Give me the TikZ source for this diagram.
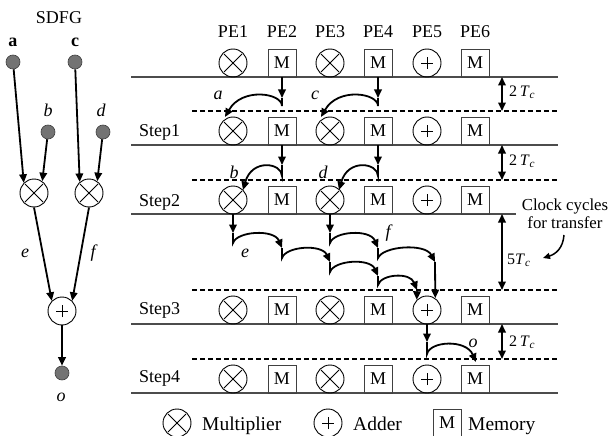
\documentclass[tikz,border=0pt]{standalone}
\usepackage{fontspec}
\setmainfont{Liberation Serif}
\usetikzlibrary{arrows.meta}
\begin{document}
\begin{tikzpicture}[x=1pt,y=-1pt,
  every node/.style={font=\fontsize{18}{21}\selectfont, inner sep=0pt},
  pe/.style={draw=black, line width=0.9pt, minimum size=28pt, inner sep=0pt},
  mult/.style={pe, circle, path picture={\draw[line width=0.9pt]
     ([xshift=-9pt,yshift=-9pt]path picture bounding box.center) -- ([xshift=9pt,yshift=9pt]path picture bounding box.center)
     ([xshift=-9pt,yshift=9pt]path picture bounding box.center) -- ([xshift=9pt,yshift=-9pt]path picture bounding box.center);}},
  adder/.style={pe, circle, path picture={\draw[line width=0.8pt]
     ([xshift=-6pt]path picture bounding box.center) -- ([xshift=6pt]path picture bounding box.center)
     ([yshift=-6pt]path picture bounding box.center) -- ([yshift=6pt]path picture bounding box.center);}},
  mem/.style={pe, rectangle, draw=black!75},
  gnode/.style={circle, fill=black!55, draw=black!75, line width=0.6pt, minimum size=14pt, inner sep=0pt},
  hline/.style={draw=black!70, line width=1.2pt},
  dline/.style={draw=black, line width=1.5pt, dash pattern=on 5pt off 3pt},
  arr/.style={line width=1.8pt, -{Triangle[length=8.5pt,width=7.5pt]}},
  darr/.style={line width=1.8pt, {Triangle[length=8.5pt,width=7.5pt]}-{Triangle[length=8.5pt,width=7.5pt]}},
  lbl/.style={font=\fontsize{18}{21}\selectfont\itshape},
  tc/.style={font=\fontsize{16}{19}\selectfont, anchor=base west},
  lgt/.style={font=\fontsize{19.5}{22}\selectfont, anchor=base west}
]
\useasboundingbox (0,0) rectangle (608,436);

% ---------- horizontal step lines ----------
\draw[hline] (131,77) -- (558,77);
\draw[hline] (131,145) -- (558,145);
\draw[hline] (131,214) -- (516,214);
\draw[hline] (131,324) -- (558,324);
\draw[hline] (131,393) -- (558,393);
\draw[dline] (192,111) -- (558,111);
\draw[dline] (192,180) -- (558,180);
\draw[dline] (192,290) -- (558,290);
\draw[dline] (192,359) -- (558,359);

% ---------- PE labels ----------
\node[anchor=base] (pe1) at (233,38) {PE1};
\node[anchor=base] (pe2) at (282,38) {PE2};
\node[anchor=base] (pe3) at (330,38) {PE3};
\node[anchor=base] (pe4) at (378,38) {PE4};
\node[anchor=base] (pe5) at (427,38) {PE5};
\node[anchor=base] (pe6) at (475,38) {PE6};

% ---------- PE cells ----------
\foreach \r/\y in {0/63,1/131,2/200,3/310,4/379} {
  \node[mult]  (r\r-c1) at (233,\y) {};
  \node[mem]   (r\r-c2) at (282,\y) {M};
  \node[mult]  (r\r-c3) at (330,\y) {};
  \node[mem]   (r\r-c4) at (378,\y) {M};
  \node[adder] (r\r-c5) at (427,\y) {};
  \node[mem]   (r\r-c6) at (475,\y) {M};
}

% ---------- step labels ----------
\node[anchor=base west] (st1) at (139,136) {Step1};
\node[anchor=base west] (st2) at (139,206) {Step2};
\node[anchor=base west] (st3) at (139,314) {Step3};
\node[anchor=base west] (st4) at (139,382) {Step4};

% ---------- step 1 transfers ----------
\coordinate (v1a) at (282,98);  \coordinate (a1s) at (282,106); \coordinate (a1e) at (225,117);
\draw[arr] (r0-c2.south) -- (v1a);
\draw[arr] (v1a) -- (a1s) .. controls (282,93) and (242,87) .. (a1e);
\node[lbl] (la) at (218,95) {a};
\coordinate (v1c) at (378,98);  \coordinate (c1s) at (378,106); \coordinate (c1e) at (321,117);
\draw[arr] (r0-c4.south) -- (v1c);
\draw[arr] (v1c) -- (c1s) .. controls (378,93) and (338,87) .. (c1e);
\node[lbl] (lc) at (315,95) {c};

% ---------- step 2 transfers ----------
\coordinate (v2b) at (282,165); \coordinate (b2s) at (282,176); \coordinate (b2e) at (243,190);
\draw[arr] (r1-c2.south) -- (v2b);
\draw[arr] (v2b) -- (b2s) .. controls (282,163) and (252,158) .. (b2e);
\node[lbl] (lb) at (234,172) {b};
\coordinate (v2d) at (378,165); \coordinate (d2s) at (378,176); \coordinate (d2e) at (339,190);
\draw[arr] (r1-c4.south) -- (v2d);
\draw[arr] (v2d) -- (d2s) .. controls (378,163) and (348,158) .. (d2e);
\node[lbl] (ld) at (323,172) {d};

% ---------- step 3 transfers (e and f) ----------
\coordinate (ve) at (233,233);
\coordinate (e1s) at (233,243); \coordinate (e1e) at (282,248);
\coordinate (e2s) at (282,258); \coordinate (e2e) at (330,262);
\coordinate (e3s) at (330,272); \coordinate (e3e) at (378,276);
\coordinate (e4s) at (378,285); \coordinate (e4e) at (417,290);
\draw[arr] (r2-c1.south) -- (ve);
\draw[arr] (ve) -- (e1s) .. controls (237,231) and (274,229) .. (e1e);
\draw[arr] (e1e) -- (e2s) .. controls (286,246) and (322,244) .. (e2e);
\draw[arr] (e2e) -- (e3s) .. controls (334,260) and (370,258) .. (e3e);
\draw[arr] (e3e) -- (e4s) .. controls (381,274) and (410,272) .. (e4e);
\draw[arr] (e4e) -- (r3-c5.135);
\node[lbl] (le) at (245,253) {e};

\coordinate (vf) at (330,233);
\coordinate (f1s) at (330,243); \coordinate (f1e) at (378,248);
\coordinate (f2s) at (378,258); \coordinate (f2e) at (435,262);
\draw[arr] (r2-c3.south) -- (vf);
\draw[arr] (vf) -- (f1s) .. controls (334,231) and (370,229) .. (f1e);
\draw[arr] (f1e) -- (f2s) .. controls (383,246) and (425,243) .. (f2e);
\draw[arr] (f2e) -- (r3-c5.55);
\node[lbl] (lf) at (388,233) {f};

% ---------- step 4 transfer ----------
\coordinate (vo) at (427,342); \coordinate (o4s) at (427,354); \coordinate (o4e) at (476,362);
\draw[arr] (r3-c5.south) -- (vo);
\draw[arr] (vo) -- (o4s) .. controls (430,341) and (466,339) .. (o4e);
\node[lbl] (lo) at (473,343) {o};

% ---------- clock-cycle markers ----------
\coordinate (k0a) at (502,77);  \coordinate (k0b) at (502,111);
\coordinate (k1a) at (502,145); \coordinate (k1b) at (502,180);
\coordinate (k2a) at (502,214); \coordinate (k2b) at (502,290);
\coordinate (k3a) at (502,324); \coordinate (k3b) at (502,359);
\draw[darr] (k0a) -- (k0b);
\draw[darr] (k1a) -- (k1b);
\draw[darr] (k2a) -- (k2b);
\draw[darr] (k3a) -- (k3b);
\node[tc] (t0) at (509,96) {2\,\textit{T}\textsubscript{\textit{c}}};
\node[tc] (t1) at (509,165) {2\,\textit{T}\textsubscript{\textit{c}}};
\node[tc] (t2) at (507,264) {5\textit{T}\textsubscript{\textit{c}}};
\node[tc] (t3) at (509,346) {2\,\textit{T}\textsubscript{\textit{c}}};

\node[font=\fontsize{16.8}{18}\selectfont, align=center] (cc) at (565,214) {Clock cycles\\for transfer};
\coordinate (ccs) at (564,235); \coordinate (cce) at (543,258);
\draw[line width=1.5pt, -{Triangle[length=7pt,width=6pt]}] (ccs) .. controls (563,248) and (556,254) .. (cce);

% ---------- SDFG ----------
\node (sdfg) at (59,18) {SDFG};
\node[gnode] (na) at (13,62) {};
\node[gnode] (nc) at (75,62) {};
\node[gnode] (nb) at (48,132) {};
\node[gnode] (nd) at (103,132) {};
\node[font=\fontsize{18}{21}\selectfont\bfseries] (tla) at (13,42) {a};
\node[font=\fontsize{18}{21}\selectfont\bfseries] (tlc) at (75,42) {c};
\node[lbl] (tlb) at (48,110) {b};
\node[lbl] (tld) at (101,110) {d};
\node[mult] (m1) at (34,193) {};
\node[mult] (m2) at (89,193) {};
\node[adder] (ad) at (62,311) {};
\node[gnode] (no) at (62,373) {};
\node[lbl] (tlo) at (61,397) {o};
\node[lbl] (tle) at (25,253) {e};
\node[lbl] (tlf) at (93,253) {f};
\draw[arr] (na) -- (m1.135);
\draw[arr] (nb) -- (m1.55);
\draw[arr] (nc) -- (m2.130);
\draw[arr] (nd) -- (m2.55);
\draw[arr] (m1.south) -- (ad.135);
\draw[arr] (m2.south) -- (ad.45);
\draw[arr] (ad.south) -- (no.north);

% ---------- legend ----------
\node[mult] (lgm) at (177,423) {};
\node[lgt] (lgmt) at (202,430) {Multiplier};
\node[adder] (lga) at (328,423) {};
\node[lgt] (lgat) at (353,430) {Adder};
\node[mem] (lgme) at (447,423) {M};
\node[lgt] (lgmet) at (468,430) {Memory};
\end{tikzpicture}
\end{document}
